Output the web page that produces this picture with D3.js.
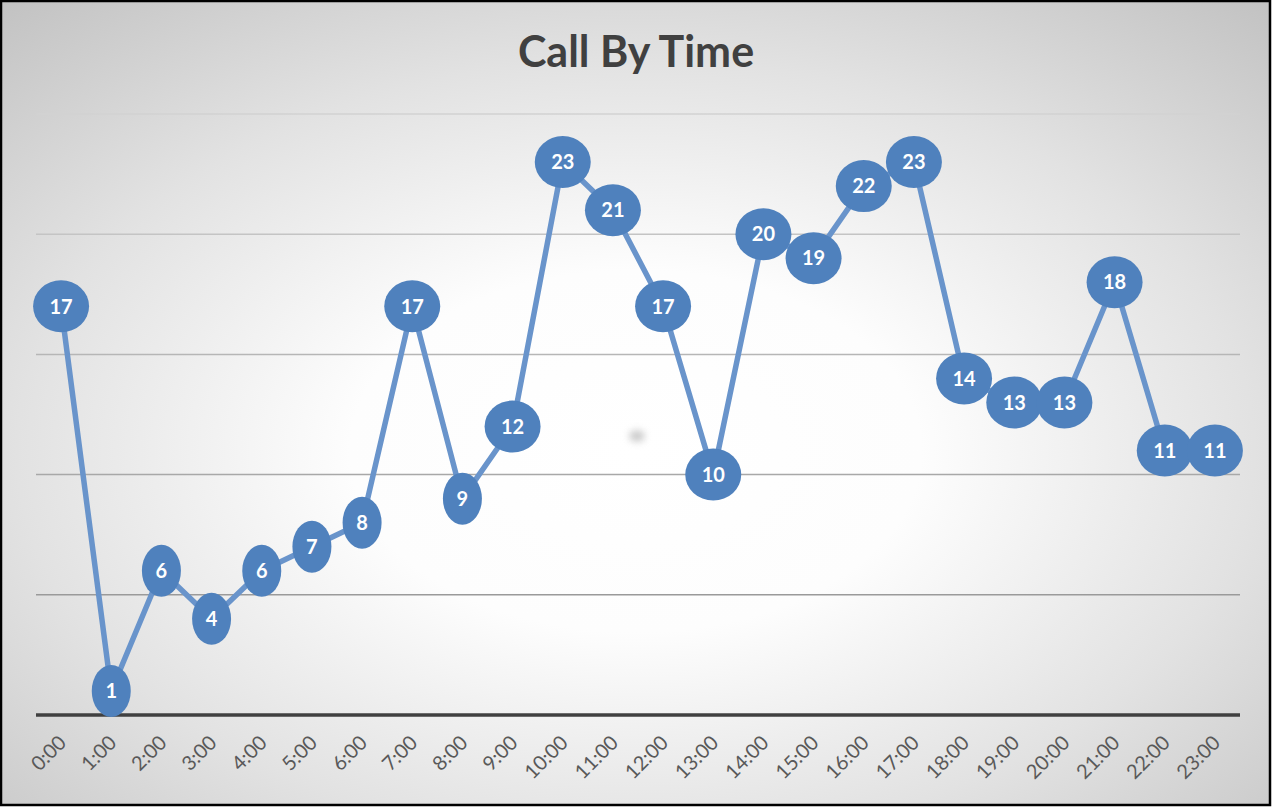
<!DOCTYPE html>
<html>
<head>
<meta charset="utf-8">
<script src="https://cdn.jsdelivr.net/npm/d3@7"></script>
<style>
  body { margin: 0; background: #fff; }
  svg { display: block; }
</style>
</head>
<body>
<div id="chart"></div>
<script>
// data
var hours = ["0:00", "1:00", "2:00", "3:00", "4:00", "5:00", "6:00", "7:00", "8:00", "9:00",
  "10:00", "11:00", "12:00", "13:00", "14:00", "15:00", "16:00", "17:00", "18:00", "19:00",
  "20:00", "21:00", "22:00", "23:00"];
var calls = [17, 1, 6, 4, 6, 7, 8, 17, 9, 12, 23, 21, 17, 10, 20, 19, 22, 23, 14, 13, 13, 18, 11, 11];
var gridValues = [5, 10, 15, 20, 25];

var svgWidth = 1273;
var svgHeight = 807;

var margin = { top: 114, right: 33, bottom: 92, left: 36 };
var width = svgWidth - margin.left - margin.right;
var height = svgHeight - margin.top - margin.bottom;

var svg = d3.select("#chart")
  .append("svg")
  .attr("width", svgWidth)
  .attr("height", svgHeight);

// background radial gradient
var defs = svg.append("defs");
var grad = defs.append("radialGradient")
  .attr("id", "bg")
  .attr("cx", 0.5).attr("cy", 0.56).attr("r", 0.75);
grad.append("stop").attr("offset", 0).attr("stop-color", "#ffffff");
grad.append("stop").attr("offset", 0.3).attr("stop-color", "#fdfdfd");
grad.append("stop").attr("offset", 0.65).attr("stop-color", "#e2e2e2");
grad.append("stop").attr("offset", 1).attr("stop-color", "#c2c2c2");

var blur = defs.append("filter").attr("id", "smudge")
  .attr("x", -1).attr("y", -1).attr("width", 3).attr("height", 3);
blur.append("feGaussianBlur").attr("stdDeviation", 3.5);

svg.append("rect")
  .attr("x", 1).attr("y", 1)
  .attr("width", svgWidth - 4).attr("height", svgHeight - 3)
  .attr("fill", "url(#bg)")
  .attr("stroke", "#000")
  .attr("stroke-width", 2.5);

// little grey smudge in the middle of the picture
svg.append("ellipse")
  .attr("cx", 637).attr("cy", 436)
  .attr("rx", 8).attr("ry", 6)
  .attr("fill", "#aaa")
  .attr("opacity", 0.6)
  .attr("filter", "url(#smudge)");

// title
svg.append("text")
  .attr("x", 636)
  .attr("y", 67)
  .attr("text-anchor", "middle")
  .style("font-family", "Lato, 'Open Sans', sans-serif")
  .style("font-weight", "bold")
  .style("font-size", "43px")
  .style("fill", "#404040")
  .text("Call By Time");

var chartGroup = svg.append("g")
  .attr("transform", `translate(${margin.left}, ${margin.top})`);

var xScale = d3.scalePoint()
  .domain(hours)
  .range([0, width])
  .padding(0.5);

var yScale = d3.scaleLinear()
  .domain([0, 25])
  .range([height, 0]);

// gridlines fade out towards the top
var gridColor = d3.scaleLinear()
  .domain([5, 25])
  .range(["#9a9a9a", "#d2d2d2"]);

chartGroup.selectAll(".grid")
  .data(gridValues)
  .enter()
  .append("line")
  .attr("class", "grid")
  .attr("x1", 0)
  .attr("x2", width)
  .attr("y1", d => yScale(d))
  .attr("y2", d => yScale(d))
  .attr("stroke", d => gridColor(d))
  .attr("stroke-width", 1.5);

// x axis
var bottomAxis = d3.axisBottom(xScale).tickSize(0).tickPadding(0);
var xAxis = chartGroup.append("g")
  .attr("transform", `translate(0, ${height})`)
  .call(bottomAxis);

xAxis.select(".domain")
  .attr("d", `M0,0H${width}`)
  .attr("stroke", "#404040")
  .attr("stroke-width", 3.5);

xAxis.selectAll("text")
  .attr("x", 0)
  .attr("y", 0)
  .attr("dy", "0.35em")
  .attr("transform", "translate(1, 24) rotate(-45)")
  .style("text-anchor", "end")
  .style("font-family", "Lato, 'Open Sans', sans-serif")
  .style("font-size", "20px")
  .style("fill", "#595959");

// line
var line = d3.line()
  .x((d, i) => xScale(hours[i]))
  .y(d => yScale(d));

chartGroup.append("path")
  .datum(calls)
  .attr("d", line)
  .attr("fill", "none")
  .attr("stroke", "#6994cb")
  .attr("stroke-width", 5.5)
  .attr("stroke-linejoin", "round");

// ellipse callouts with the values
var labels = chartGroup.selectAll(".callout")
  .data(calls)
  .enter()
  .append("g")
  .attr("class", "callout")
  .attr("transform", (d, i) => `translate(${xScale(hours[i])}, ${yScale(d)})`);

labels.append("ellipse")
  .attr("rx", d => d >= 10 ? 28 : 19.5)
  .attr("ry", 26)
  .attr("fill", "#4f81bd");

labels.append("text")
  .attr("text-anchor", "middle")
  .attr("dy", "0.36em")
  .style("font-family", "Lato, 'Open Sans', sans-serif")
  .style("font-weight", "bold")
  .style("font-size", "20px")
  .style("fill", "#ffffff")
  .text(d => d);
</script>
</body>
</html>
